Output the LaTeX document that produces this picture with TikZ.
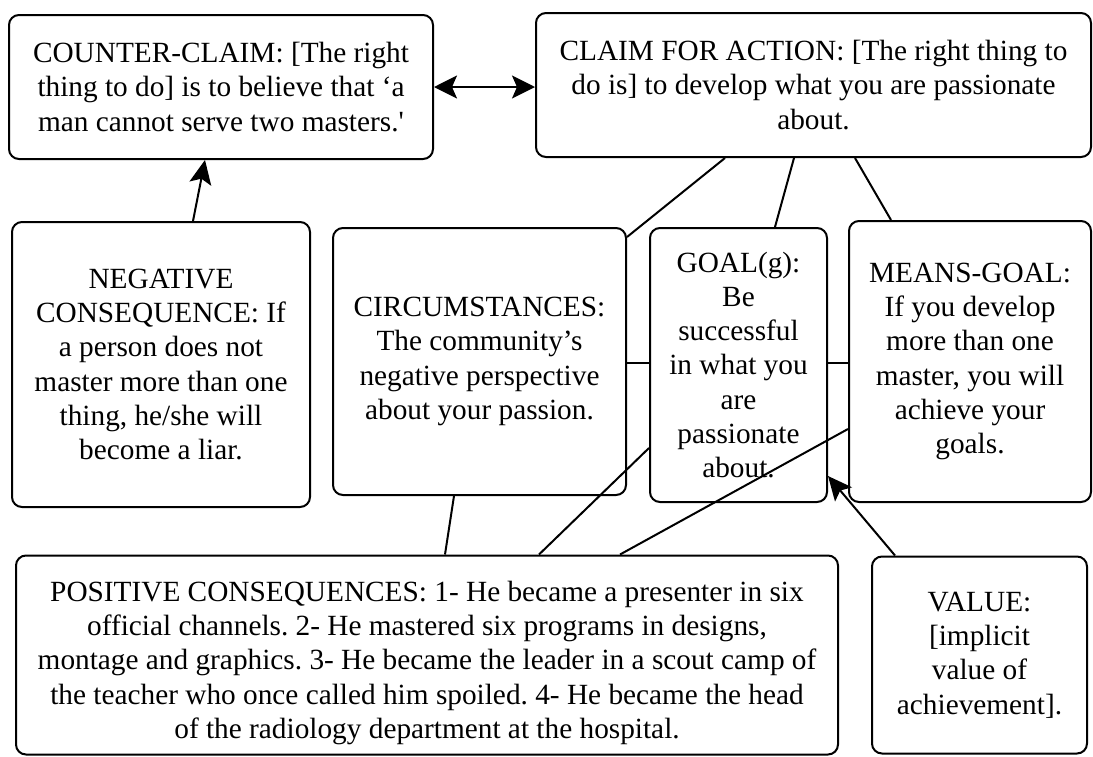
\documentclass[tikz,border=0pt]{standalone}
\usepackage{fontspec}
\setmainfont{Liberation Serif}
\usetikzlibrary{arrows.meta}
\frenchspacing
\begin{document}
\begin{tikzpicture}[x=1pt,y=-1pt,
  box/.style={draw, line width=2pt, rounded corners=10pt, inner sep=0pt,
    align=center, font=\fontsize{29.3}{34.2}\selectfont},
  link/.style={line width=2pt},
  tip/.style={line width=2pt, -{Stealth[length=24pt,width=22pt,inset=5pt]}},
  both/.style={line width=2pt, {Stealth[length=23pt,width=23pt,inset=5pt]}-{Stealth[length=23pt,width=23pt,inset=5pt]}}]
\useasboundingbox (0,0) rectangle (1093,756);

% argument components
\node[box, minimum width=424pt, minimum height=144pt] (cc) at (221,87)
  {COUNTER-CLAIM: [The right\\ thing to do] is to believe that ‘a\\ man cannot serve two masters.\textquotesingle};
\node[box, minimum width=555pt, minimum height=144pt] (claim) at (813.5,85)
  {CLAIM FOR ACTION: [The right thing to\\ do is] to develop what you are passionate\\ about.};
\node[box, minimum width=298pt, minimum height=285pt] (neg) at (161,364.5)
  {NEGATIVE\\ CONSEQUENCE: If\\ a person does not\\ master more than one\\ thing, he/she will\\ become a liar.};
\node[box, minimum width=293pt, minimum height=267pt] (circ) at (479.5,361.5)
  {CIRCUMSTANCES:\\ The community’s\\ negative perspective\\ about your passion.};
\node[box, minimum width=177pt, minimum height=274pt] (goal) at (738.5,365)
  {GOAL(g):\\ Be\\ successful\\ in what you\\ are\\ passionate\\ about.};
\node[box, minimum width=242pt, minimum height=281pt] (means) at (970,361.5)
  {MEANS-GOAL:\\ If you develop\\ more than one\\ master, you will\\ achieve your\\ goals.};
\node[box, minimum width=822pt, minimum height=199pt] (pos) at (427,655)
  {\rule{0pt}{36pt}POSITIVE CONSEQUENCES: 1- He became a presenter in six\\ official channels. 2- He mastered six programs in designs,\\ montage and graphics. 3- He became the leader in a scout camp of\\ the teacher who once called him spoiled. 4- He became the head\\ of the radiology department at the hospital.};
\node[box, minimum width=215pt, minimum height=197pt] (value) at (979.5,655)
  {VALUE:\\ {[implicit}\\ value of\\ achievement].};

% attack between the two claims
\draw[both] (cc.east) -- (cc.east -| claim.west);
% negative consequence supports the counter-claim
\draw[tip] ([xshift=32pt]neg.north) -- ([xshift=-16pt]cc.south);

% premises joined to the claim for action
\draw[link] ([xshift=190pt]claim.south west) -- ([yshift=-10pt]circ.north east);
\draw[link] ([xshift=259pt]claim.south west) -- ([xshift=126pt]goal.north west);
\draw[link] ([xshift=320pt]claim.south west) -- ([xshift=43pt]means.north west);
\draw[link] ([yshift=-1.5pt]circ.east) -- ([yshift=-1.5pt]circ.east -| goal.west);
\draw[link] ([yshift=2pt]goal.east) -- ([yshift=2pt]goal.east -| means.west);

% positive consequences joined to the premises
\draw[link] ([xshift=430pt]pos.north west) -- ([xshift=122pt]circ.south west);
\draw[link] ([xshift=524pt]pos.north west) -- ([yshift=-83pt]goal.west);
\draw[link] ([xshift=605pt]pos.north west) -- ([yshift=-67.5pt]means.west);

% value backs the goal
\draw[tip] ([xshift=24pt]value.north west) -- ([yshift=-111pt]goal.east);
\end{tikzpicture}
\end{document}
